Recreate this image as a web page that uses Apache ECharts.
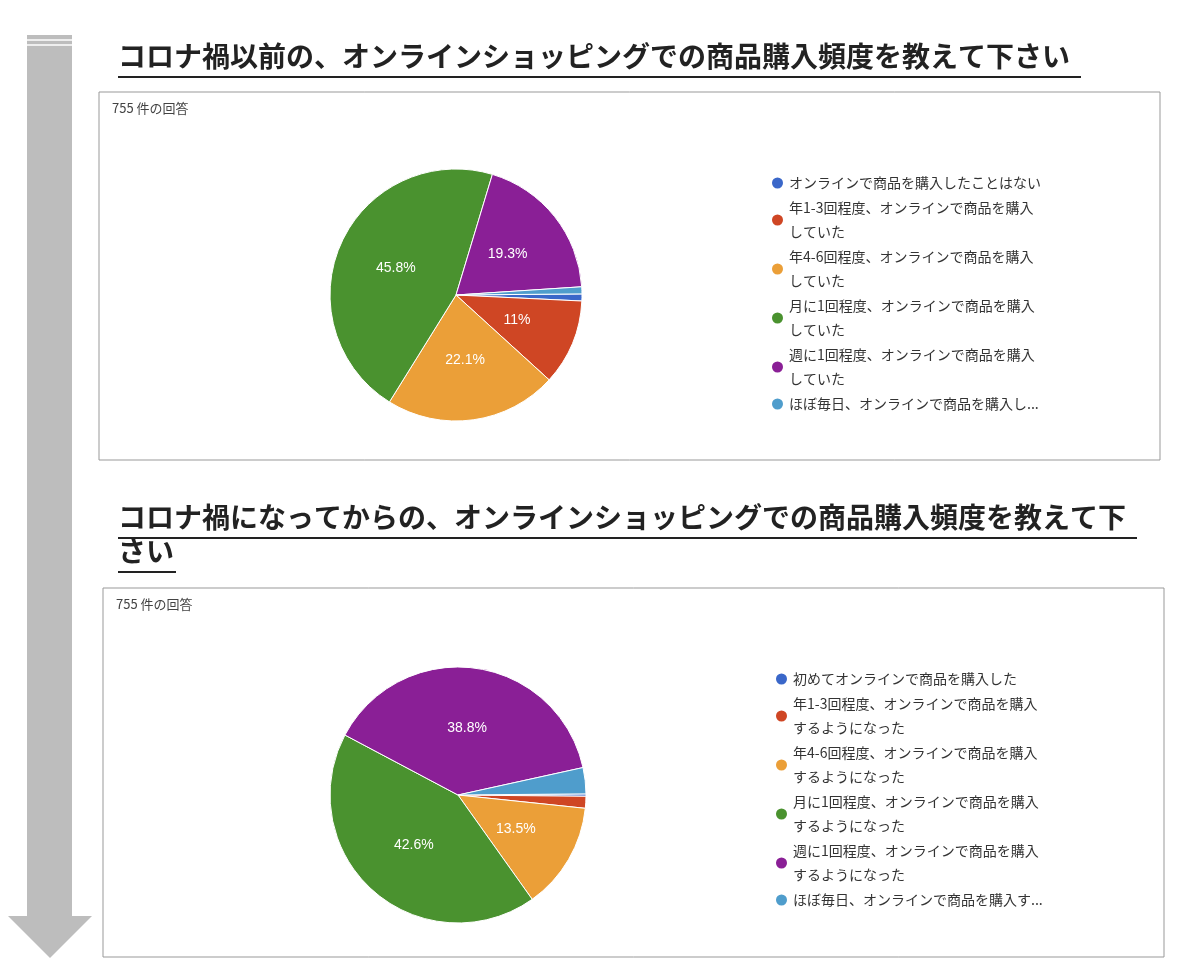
<!DOCTYPE html>
<html><head><meta charset="utf-8">
<script src="https://cdn.jsdelivr.net/npm/echarts@6/dist/echarts.min.js"></script>
<style>html,body{margin:0;padding:0;background:#fff}#c{width:1200px;height:978px}</style>
</head><body><div id="c"></div>
<script>
const titles1 = ['コロナ禍以前の、オンラインショッピングでの商品購入頻度を教えて下さい'];
const titles2 = ['コロナ禍になってからの、オンラインショッピングでの商品購入頻度を教えて下', 'さい'];
const respLabel = '755 件の回答';
const cats1 = ['オンラインで商品を購入したことはない','年1-3回程度、オンラインで商品を購入\nしていた','年4-6回程度、オンラインで商品を購入\nしていた','月に1回程度、オンラインで商品を購入\nしていた','週に1回程度、オンラインで商品を購入\nしていた','ほぼ毎日、オンラインで商品を購入し...'];
const vals1 = [0.9, 11, 22.1, 45.8, 19.3, 0.9];
const cats2 = ['初めてオンラインで商品を購入した','年1-3回程度、オンラインで商品を購入\nするようになった','年4-6回程度、オンラインで商品を購入\nするようになった','月に1回程度、オンラインで商品を購入\nするようになった','週に1回程度、オンラインで商品を購入\nするようになった','ほぼ毎日、オンラインで商品を購入す...'];
const vals2 = [0.3, 1.5, 13.5, 42.6, 38.8, 3.3];
const colors = ['#3a67c9','#cf4624','#eb9f38','#4a922f','#8a1f96','#4f9dcc'];

const font = '"Noto Sans CJK JP", sans-serif';
const chart = echarts.init(document.getElementById('c'));
function mk(cats, vals){ return cats.map((n,i)=>({name:n, value:vals[i], itemStyle:{color:colors[i]}, label:{show: vals[i] >= 5}})); }
function pie(id, cats, vals, cx, cy, r){
  return {type:'pie', id, center:[cx,cy], radius:r, startAngle:0.5, clockwise:true, sort:null,
    itemStyle:{borderColor:'#fff', borderWidth:1},
    label:{position:'inside', color:'#fff', fontSize:14, fontFamily:'"Liberation Sans", Arial, sans-serif',
      formatter:p=>String(p.value)+'%'},
    labelLine:{show:false}, emphasis:{disabled:true}, data:mk(cats, vals)};
}
function legend(names, top, left){
  return {data:names, top, left, orient:'vertical', itemGap:1, icon:'circle', itemWidth:13, itemHeight:13,
    textStyle:{fontSize:14, color:'#333', fontFamily:font, lineHeight:24}, selectedMode:false};
}
chart.setOption({
  animation:false,
  legend:[legend(cats1,166,765), legend(cats2,662,769)],
  series:[pie('a',cats1,vals1,456,295,126), pie('b',cats2,vals2,458,795,128)],
  graphic:[
    {type:'rect', shape:{x:27,y:35,width:45,height:882}, style:{fill:'#bdbdbd'}},
    {type:'polygon', shape:{points:[[8,916],[92,916],[50,958]]}, style:{fill:'#bdbdbd'}},
    {type:'line', shape:{x1:27,y1:40,x2:72,y2:40}, style:{stroke:'#fff',lineWidth:1.5}},
    {type:'line', shape:{x1:27,y1:45,x2:72,y2:45}, style:{stroke:'#fff',lineWidth:1.5}},
    {type:'rect', shape:{x:99,y:92,width:1061,height:368}, style:{fill:'none',stroke:'#999',lineWidth:1}},
    {type:'rect', shape:{x:103,y:588,width:1061,height:369}, style:{fill:'none',stroke:'#999',lineWidth:1}},
    {type:'text', x:118, y:42, style:{text:titles1[0], font:'bold 28px '+font, fill:'#222'}},
    {type:'line', shape:{x1:118,y1:77,x2:1081,y2:77}, style:{stroke:'#222',lineWidth:2}},
    {type:'text', x:118, y:503, style:{text:titles2[0], font:'bold 28px '+font, fill:'#222'}},
    {type:'line', shape:{x1:118,y1:538,x2:1137,y2:538}, style:{stroke:'#222',lineWidth:2}},
    {type:'text', x:118, y:537, style:{text:titles2[1], font:'bold 28px '+font, fill:'#222'}},
    {type:'line', shape:{x1:118,y1:572,x2:176,y2:572}, style:{stroke:'#222',lineWidth:2}},
    {type:'text', x:112, y:102, style:{text:respLabel, font:'13px '+font, fill:'#444'}},
    {type:'text', x:116, y:598, style:{text:respLabel, font:'13px '+font, fill:'#444'}}
  ]
});
</script></body></html>
